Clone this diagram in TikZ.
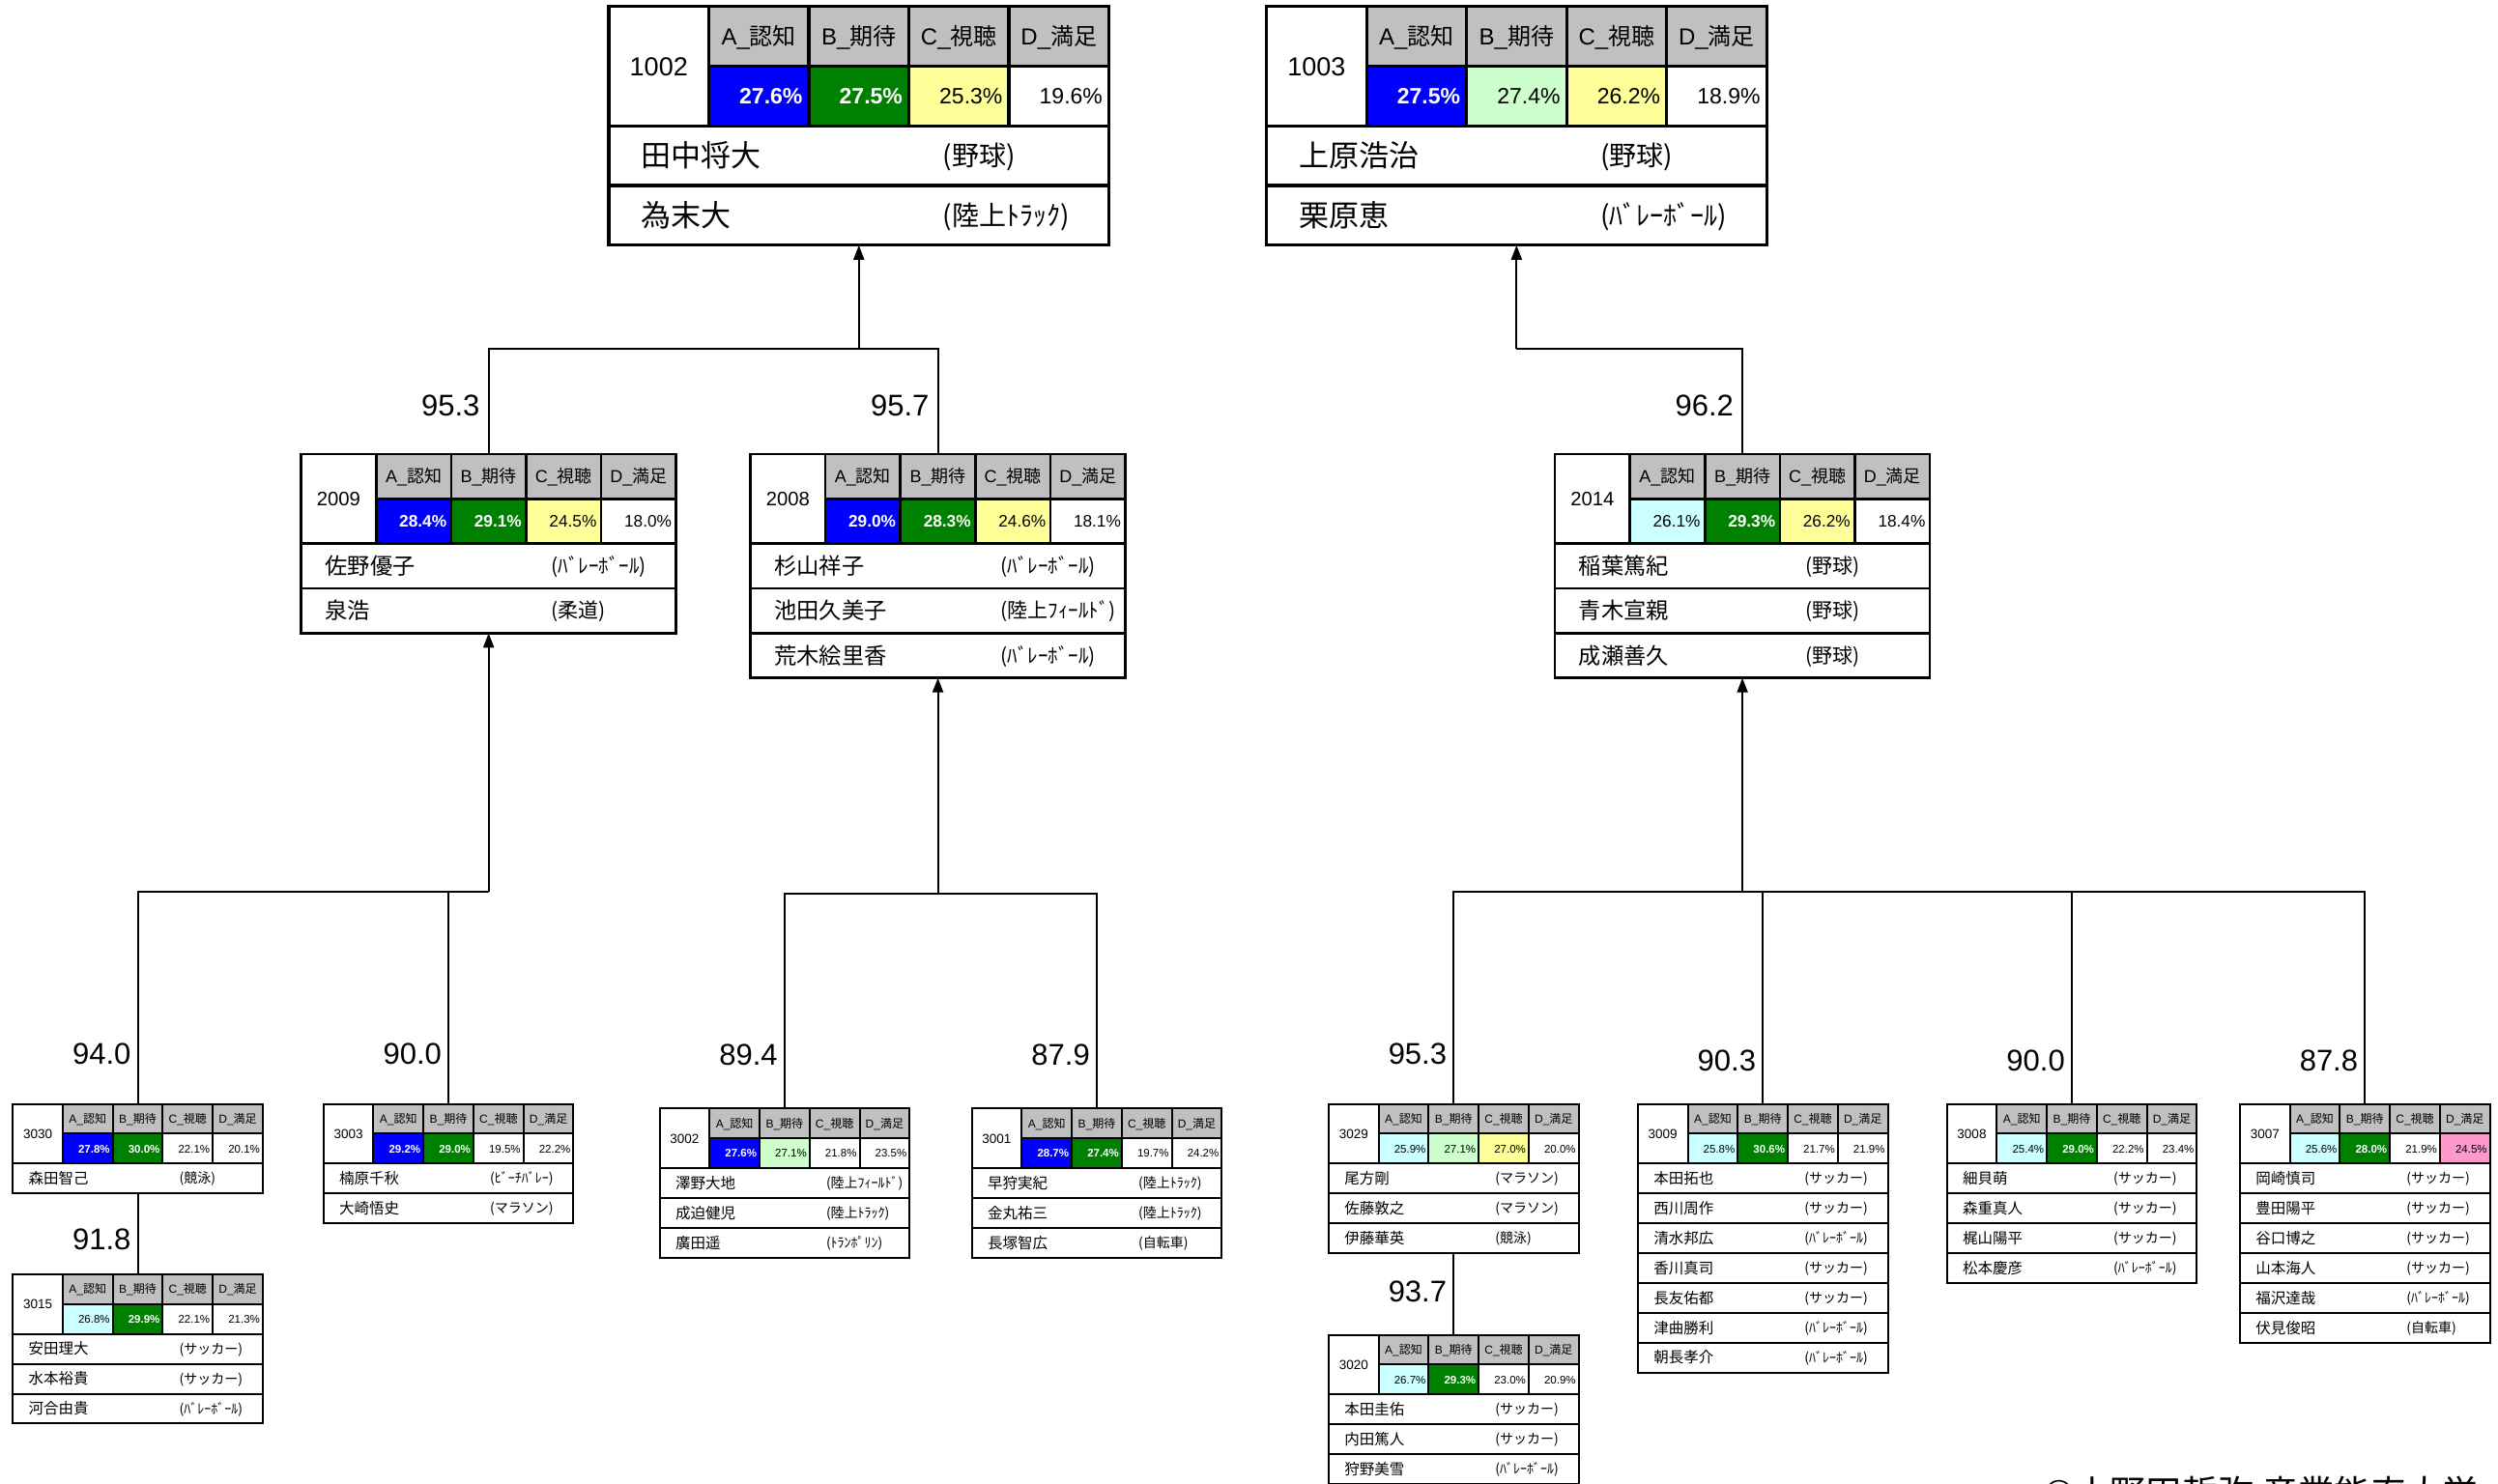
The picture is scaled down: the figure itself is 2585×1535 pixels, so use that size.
\documentclass[tikz,border=0pt]{standalone}
\usepackage{fontspec}
\setmainfont{Liberation Sans}
\newfontfamily\jp{Noto Sans CJK JP}
\usetikzlibrary{arrows.meta}
\definecolor{hdr}{HTML}{C0C0C0}
\definecolor{cB}{HTML}{0000FF}
\definecolor{cG}{HTML}{008000}
\definecolor{cY}{HTML}{FFFF99}
\definecolor{cC}{HTML}{CCFFFF}
\definecolor{cL}{HTML}{CCFFCC}
\definecolor{cP}{HTML}{FF99CC}
\definecolor{cW}{HTML}{FFFFFF}
\colorlet{tB}{white}\colorlet{tG}{white}
\colorlet{tY}{black}\colorlet{tC}{black}\colorlet{tL}{black}\colorlet{tP}{black}\colorlet{tW}{black}
\expandafter\def\csname vfB\endcsname{\bfseries}
\expandafter\def\csname vfG\endcsname{\bfseries}
\expandafter\def\csname vfY\endcsname{}
\expandafter\def\csname vfC\endcsname{}
\expandafter\def\csname vfL\endcsname{}
\expandafter\def\csname vfP\endcsname{}
\expandafter\def\csname vfW\endcsname{}
\tikzset{
  conn/.style={line width=2pt},
  arr/.style={line width=2pt,-{Triangle[length=15pt,width=11pt]}},
  score/.style={font=\fontsize{31}{36}\selectfont, anchor=east, inner sep=0pt},
  hd/.style={font=\fontsize{24}{28}\selectfont, anchor=base, inner sep=0pt},
  vl/.style={anchor=base east, inner sep=0pt},
  idt/.style={font=\fontsize{27}{30}\selectfont, anchor=base, inner sep=0pt},
  nmt/.style={font=\jp\fontsize{31}{36}\selectfont, anchor=base west, inner sep=0pt},
  spt/.style={font=\jp\fontsize{28}{32}\selectfont, anchor=base west, inner sep=0pt},
  frame/.style={draw, anchor=north west, inner sep=0pt, outer sep=0pt},
}
% #1 name, #2 position, #3 scale, #4 id, #5 values, #6 names, #7 number of names
\newcommand\dbox[7]{%
  \pgfmathsetmacro\lw{0.8+2.4*#3}%
  \pgfmathsetmacro\bh{(#7+2)*61.8}%
  \begin{scope}[shift={#2}, scale=#3, every node/.append style={transform shape}, line width=\lw pt]
    \fill[hdr] (103.5,0) rectangle (517.5,61.8);
    \foreach \cc/\vv [count=\i] in {#5}{%
      \fill[fill=c\cc] ({103.5*\i},61.8) rectangle ({103.5*(\i+1)},123.6);
      \node[vl, text=t\cc, font=\fontsize{23}{27}\selectfont\csname vf\cc\endcsname] (#1-v\i) at ({103.5*(\i+1)-5},101) {\vv};
    }
    \foreach \ha/\hb [count=\i] in {A/認知,B/期待,C/視聴,D/満足}{%
      \node[hd] (#1-h\i) at ({103.5*\i+51.75},39.8) {\ha\_{\jp\hb}};
    }
    \node[idt] (#1-id) at (51.75,71.5) {#4};
    \foreach \pname/\psport [count=\k] in {#6}{%
      \node[nmt] (#1-n\k) at (32,{61.8*(\k+1.5)+11.5}) {\pname};
      \node[spt] (#1-s\k) at (344,{61.8*(\k+1.5)+10.4}) {(\psport)};
    }
    \draw (103.5,0) -- (103.5,123.6);
    \foreach \i in {2,3,4}{\draw ({103.5*\i},0) -- ({103.5*\i},123.6);}
    \draw (103.5,61.8) -- (517.5,61.8);
    \foreach \k in {1,...,#7}{\draw (0,{61.8*(\k+1)}) -- (517.5,{61.8*(\k+1)});}
    \node[frame, minimum width=517.5pt, minimum height=\bh pt] (#1) at (0,0) {};
  \end{scope}}
\begin{document}
\begin{tikzpicture}[x=1pt,y=-1pt]
\useasboundingbox (0,0) rectangle (2585,1535);
\clip (0,0) rectangle (2585,1535);
\fill[white] (0,0) rectangle (2585,1535);

% top level
\dbox{b1002}{(630,6.6)}{1}{1002}{B/27.6\%,G/27.5\%,Y/25.3\%,W/19.6\%}{田中将大/野球,為末大/陸上ﾄﾗｯｸ}{2}
\dbox{b1003}{(1310.6,6.6)}{1}{1003}{B/27.5\%,L/27.4\%,Y/26.2\%,W/18.9\%}{上原浩治/野球,栗原恵/ﾊﾞﾚｰﾎﾞｰﾙ}{2}

% middle level
\dbox{b2009}{(311.6,469.9)}{0.75}{2009}{B/28.4\%,G/29.1\%,Y/24.5\%,W/18.0\%}{佐野優子/ﾊﾞﾚｰﾎﾞｰﾙ,泉浩/柔道}{2}
\dbox{b2008}{(776.5,469.9)}{0.75}{2008}{B/29.0\%,G/28.3\%,Y/24.6\%,W/18.1\%}{杉山祥子/ﾊﾞﾚｰﾎﾞｰﾙ,池田久美子/陸上ﾌｨｰﾙﾄﾞ,荒木絵里香/ﾊﾞﾚｰﾎﾞｰﾙ}{3}
\dbox{b2014}{(1609,469.9)}{0.75}{2014}{C/26.1\%,G/29.3\%,Y/26.2\%,W/18.4\%}{稲葉篤紀/野球,青木宣親/野球,成瀬善久/野球}{3}

% bottom level
\dbox{b3030}{(13.2,1142.5)}{0.5}{3030}{B/27.8\%,G/30.0\%,W/22.1\%,W/20.1\%}{森田智己/競泳}{1}
\dbox{b3015}{(13.2,1318.9)}{0.5}{3015}{C/26.8\%,G/29.9\%,W/22.1\%,W/21.3\%}{安田理大/サッカー,水本裕貴/サッカー,河合由貴/ﾊﾞﾚｰﾎﾞｰﾙ}{3}
\dbox{b3003}{(334.7,1142.5)}{0.5}{3003}{B/29.2\%,G/29.0\%,W/19.5\%,W/22.2\%}{楠原千秋/ﾋﾞｰﾁﾊﾞﾚｰ,大崎悟史/マラソン}{2}
\dbox{b3002}{(682.5,1147.4)}{0.5}{3002}{B/27.6\%,L/27.1\%,W/21.8\%,W/23.5\%}{澤野大地/陸上ﾌｨｰﾙﾄﾞ,成迫健児/陸上ﾄﾗｯｸ,廣田遥/ﾄﾗﾝﾎﾟﾘﾝ}{3}
\dbox{b3001}{(1005.6,1147.4)}{0.5}{3001}{B/28.7\%,G/27.4\%,W/19.7\%,W/24.2\%}{早狩実紀/陸上ﾄﾗｯｸ,金丸祐三/陸上ﾄﾗｯｸ,長塚智広/自転車}{3}
\dbox{b3029}{(1374.9,1142.5)}{0.5}{3029}{C/25.9\%,L/27.1\%,Y/27.0\%,W/20.0\%}{尾方剛/マラソン,佐藤敦之/マラソン,伊藤華英/競泳}{3}
\dbox{b3020}{(1374.9,1381.5)}{0.5}{3020}{C/26.7\%,G/29.3\%,W/23.0\%,W/20.9\%}{本田圭佑/サッカー,内田篤人/サッカー,狩野美雪/ﾊﾞﾚｰﾎﾞｰﾙ}{3}
\dbox{b3009}{(1694.8,1142.5)}{0.5}{3009}{C/25.8\%,G/30.6\%,W/21.7\%,W/21.9\%}{本田拓也/サッカー,西川周作/サッカー,清水邦広/ﾊﾞﾚｰﾎﾞｰﾙ,香川真司/サッカー,長友佑都/サッカー,津曲勝利/ﾊﾞﾚｰﾎﾞｰﾙ,朝長孝介/ﾊﾞﾚｰﾎﾞｰﾙ}{7}
\dbox{b3008}{(2014.6,1142.5)}{0.5}{3008}{C/25.4\%,G/29.0\%,W/22.2\%,W/23.4\%}{細貝萌/サッカー,森重真人/サッカー,梶山陽平/サッカー,松本慶彦/ﾊﾞﾚｰﾎﾞｰﾙ}{4}
\dbox{b3007}{(2317.9,1142.5)}{0.5}{3007}{C/25.6\%,G/28.0\%,W/21.9\%,P/24.5\%}{岡崎慎司/サッカー,豊田陽平/サッカー,谷口博之/サッカー,山本海人/サッカー,福沢達哉/ﾊﾞﾚｰﾎﾞｰﾙ,伏見俊昭/自転車}{6}

% junctions
\path (b1002.south) ++(0,107) coordinate (jA);
\path (b1003.south) ++(0,107) coordinate (jB);
\path (b2009.south) ++(0,267.7) coordinate (jC);
\path (b2008.south) ++(0,223.4) coordinate (jD);
\path (b2014.south) ++(0,221.4) coordinate (jE);

% connectors
\draw[conn] (b2009.north) |- (jA) -| (b2008.north);
\draw[arr] (jA) -- (b1002.south);
\draw[conn] (b2014.north) |- (jB);
\draw[arr] (jB) -- (b1003.south);
\draw[conn] (b3030.north) |- (jC) -| (b3003.north);
\draw[arr] (jC) -- (b2009.south);
\draw[conn] (b3002.north) |- (jD) -| (b3001.north);
\draw[arr] (jD) -- (b2008.south);
\draw[conn] (b3029.north) |- (jE) -| (b3007.north);
\draw[conn] (b3009.north) |- (jE);
\draw[conn] (b3008.north) |- (jE);
\draw[arr] (jE) -- (b2014.south);
\draw[conn] (b3030.south) -- (b3015.north);
\draw[conn] (b3029.south) -- (b3020.north);

% scores
\path (b2009.north) ++(-9,-50) node[score] (s1) {95.3};
\path (b2008.north) ++(-9,-50) node[score] (s2) {95.7};
\path (b2014.north) ++(-9,-50) node[score] (s3) {96.2};
\path (b3030.north) ++(-7,-51.5) node[score] (s4) {94.0};
\path (b3003.north) ++(-7,-51.5) node[score] (s5) {90.0};
\path (b3002.north) ++(-7,-56) node[score] (s6) {89.4};
\path (b3001.north) ++(-7,-56) node[score] (s7) {87.9};
\path (b3029.north) ++(-7,-51.5) node[score] (s8) {95.3};
\path (b3009.north) ++(-7,-44.5) node[score] (s9) {90.3};
\path (b3008.north) ++(-7,-44.5) node[score] (s10) {90.0};
\path (b3007.north) ++(-7,-44.5) node[score] (s11) {87.8};
\path (b3015.north) ++(-7,-36) node[score] (s12) {91.8};
\path (b3020.north) ++(-7,-44.5) node[score] (s13) {93.7};

% copyright (cut off at the bottom edge)
\node[font=\jp\fontsize{37.3}{42}\selectfont, anchor=base west, inner sep=0pt] (copy) at (2115,1559) {©小野田哲弥 産業能率大学};
\end{tikzpicture}
\end{document}
